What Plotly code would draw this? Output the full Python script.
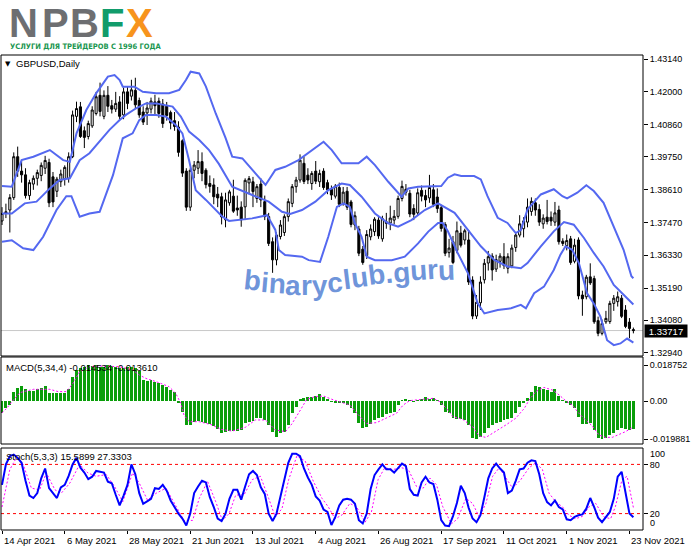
import plotly.graph_objects as go
from plotly.subplots import make_subplots

# ---------------- data ----------------
date_ticks = [0, 16, 32, 48, 64, 80, 96, 112, 128, 144, 160]
date_labels = ["14 Apr 2021", "6 May 2021", "28 May 2021", "21 Jun 2021", "13 Jul 2021",
               "4 Aug 2021", "26 Aug 2021", "17 Sep 2021", "11 Oct 2021", "1 Nov 2021", "23 Nov 2021"]

price_ticks = [1.43140, 1.42000, 1.40860, 1.39750, 1.38610, 1.37470, 1.36330, 1.35190, 1.34080, 1.32940]
macd_ticks = [0.018752, 0.0, -0.019881]
macd_tick_text = ["0.018752", "0.00", "-0.019881"]
stoch_levels = [80, 20]

opens = [1.3752, 1.3778, 1.3790, 1.3833, 1.3975, 1.3925, 1.3912, 1.3840, 1.3880, 1.3900,
         1.3910, 1.3935, 1.3955, 1.3905, 1.3855, 1.3888, 1.3898, 1.3900, 1.3975, 1.4115,
         1.4148, 1.4065, 1.4045, 1.4082, 1.4125, 1.4188, 1.4115, 1.4188, 1.4152, 1.4140,
         1.4165, 1.4120, 1.4200, 1.4185, 1.4205, 1.4170, 1.4130, 1.4127, 1.4140, 1.4165,
         1.4168, 1.4158, 1.4150, 1.4128, 1.4100, 1.4078, 1.4030, 1.3925, 1.3800, 1.3928,
         1.3935, 1.3958, 1.3928, 1.3882, 1.3877, 1.3845, 1.3836, 1.3756, 1.3815, 1.3838,
         1.3797, 1.3800, 1.3801, 1.3884, 1.3888, 1.3830, 1.3880, 1.3819, 1.3767, 1.3680,
         1.3617, 1.3698, 1.3712, 1.3767, 1.3813, 1.3871, 1.3894, 1.3952, 1.3911, 1.3882,
         1.3925, 1.3888, 1.3925, 1.3885, 1.3862, 1.3838, 1.3868, 1.3812, 1.3855, 1.3818,
         1.3738, 1.3724, 1.3654, 1.3632, 1.3697, 1.3715, 1.3755, 1.3690, 1.3749, 1.3745,
         1.3755, 1.3768, 1.3830, 1.3862, 1.3848, 1.3795, 1.3780, 1.3858, 1.3840, 1.3832,
         1.3860, 1.3835, 1.3798, 1.3740, 1.3642, 1.3680, 1.3650, 1.3710, 1.3686, 1.3686,
         1.3547, 1.3422, 1.3468, 1.3548, 1.3606, 1.3630, 1.3585, 1.3612, 1.3628, 1.3588,
         1.3596, 1.3660, 1.3703, 1.3725, 1.3748, 1.3785, 1.3815, 1.3792, 1.3742, 1.3765,
         1.3765, 1.3748, 1.3790, 1.3682, 1.3666, 1.3690, 1.3612, 1.3686, 1.3495, 1.3489,
         1.3558, 1.3552, 1.3406, 1.3362, 1.3402, 1.3403, 1.3466, 1.3472, 1.3484, 1.3443,
         1.3401, 1.3375]
highs = [1.3800, 1.3812, 1.3845, 1.3990, 1.4010, 1.3960, 1.3935, 1.3895, 1.3910, 1.3930,
         1.3955, 1.3978, 1.3968, 1.3922, 1.3905, 1.3930, 1.3945, 1.3990, 1.4135, 1.4166,
         1.4165, 1.4080, 1.4100, 1.4150, 1.4200, 1.4232, 1.4205, 1.4220, 1.4172, 1.4200,
         1.4185, 1.4215, 1.4218, 1.4242, 1.4249, 1.4180, 1.4150, 1.4165, 1.4180, 1.4190,
         1.4180, 1.4175, 1.4165, 1.4135, 1.4130, 1.4098, 1.4035, 1.3935, 1.3935, 1.3960,
         1.3998, 1.3990, 1.3935, 1.3910, 1.3900, 1.3870, 1.3850, 1.3850, 1.3860, 1.3895,
         1.3840, 1.3820, 1.3900, 1.3908, 1.3905, 1.3880, 1.3900, 1.3840, 1.3780, 1.3695,
         1.3712, 1.3755, 1.3775, 1.3830, 1.3880, 1.3905, 1.3983, 1.3975, 1.3935, 1.3925,
         1.3960, 1.3930, 1.3935, 1.3895, 1.3875, 1.3880, 1.3885, 1.3870, 1.3870, 1.3825,
         1.3785, 1.3735, 1.3665, 1.3720, 1.3740, 1.3765, 1.3765, 1.3770, 1.3780, 1.3805,
         1.3790, 1.3840, 1.3892, 1.3880, 1.3860, 1.3810, 1.3865, 1.3875, 1.3860, 1.3912,
         1.3880, 1.3865, 1.3808, 1.3748, 1.3690, 1.3700, 1.3750, 1.3735, 1.3725, 1.3720,
         1.3560, 1.3495, 1.3560, 1.3620, 1.3648, 1.3640, 1.3635, 1.3640, 1.3675, 1.3640,
         1.3670, 1.3710, 1.3772, 1.3765, 1.3830, 1.3834, 1.3830, 1.3810, 1.3775, 1.3825,
         1.3785, 1.3818, 1.3805, 1.3692, 1.3705, 1.3700, 1.3690, 1.3695, 1.3510, 1.3565,
         1.3605, 1.3562, 1.3420, 1.3410, 1.3440, 1.3475, 1.3495, 1.3507, 1.3495, 1.3460,
         1.3415, 1.3382]
lows = [1.3738, 1.3762, 1.3712, 1.3825, 1.3905, 1.3885, 1.3830, 1.3825, 1.3860, 1.3875,
        1.3890, 1.3915, 1.3800, 1.3800, 1.3835, 1.3870, 1.3875, 1.3885, 1.3970, 1.4095,
        1.4040, 1.4005, 1.4035, 1.4075, 1.4118, 1.4115, 1.4105, 1.4130, 1.4125, 1.4130,
        1.4100, 1.4105, 1.4140, 1.4170, 1.4140, 1.4110, 1.4085, 1.4085, 1.4125, 1.4120,
        1.4110, 1.4075, 1.4100, 1.4070, 1.4065, 1.3975, 1.3905, 1.3787, 1.3787, 1.3900,
        1.3915, 1.3890, 1.3865, 1.3850, 1.3810, 1.3800, 1.3740, 1.3730, 1.3805, 1.3780,
        1.3770, 1.3732, 1.3755, 1.3845, 1.3800, 1.3815, 1.3800, 1.3755, 1.3665, 1.3572,
        1.3598, 1.3688, 1.3700, 1.3750, 1.3800, 1.3850, 1.3885, 1.3880, 1.3880, 1.3860,
        1.3880, 1.3870, 1.3860, 1.3845, 1.3825, 1.3830, 1.3800, 1.3805, 1.3790, 1.3730,
        1.3720, 1.3630, 1.3600, 1.3620, 1.3685, 1.3700, 1.3690, 1.3680, 1.3725, 1.3720,
        1.3740, 1.3760, 1.3820, 1.3840, 1.3765, 1.3755, 1.3770, 1.3820, 1.3800, 1.3815,
        1.3800, 1.3780, 1.3715, 1.3630, 1.3625, 1.3602, 1.3640, 1.3660, 1.3670, 1.3530,
        1.3411, 1.3412, 1.3443, 1.3535, 1.3580, 1.3545, 1.3575, 1.3590, 1.3585, 1.3570,
        1.3588, 1.3645, 1.3695, 1.3695, 1.3730, 1.3770, 1.3770, 1.3735, 1.3725, 1.3740,
        1.3735, 1.3735, 1.3670, 1.3665, 1.3650, 1.3600, 1.3605, 1.3480, 1.3423, 1.3480,
        1.3530, 1.3395, 1.3352, 1.3355, 1.3395, 1.3395, 1.3440, 1.3455, 1.3415, 1.3380,
        1.3345, 1.3362]
closes = [1.3778, 1.3784, 1.3833, 1.3975, 1.3925, 1.3912, 1.3840, 1.3885, 1.3900, 1.3920,
          1.3945, 1.3962, 1.3815, 1.3818, 1.3897, 1.3915, 1.3938, 1.3975, 1.4120, 1.4142,
          1.4045, 1.4042, 1.4090, 1.4137, 1.4183, 1.4132, 1.4188, 1.4150, 1.4140, 1.4160,
          1.4115, 1.4200, 1.4160, 1.4207, 1.4155, 1.4120, 1.4095, 1.4144, 1.4168, 1.4152,
          1.4125, 1.4090, 1.4118, 1.4092, 1.4080, 1.3990, 1.3918, 1.3800, 1.3928, 1.3946,
          1.3958, 1.3917, 1.3878, 1.3872, 1.3836, 1.3832, 1.3766, 1.3825, 1.3853, 1.3786,
          1.3790, 1.3756, 1.3893, 1.3899, 1.3854, 1.3871, 1.3825, 1.3767, 1.3674, 1.3617,
          1.3703, 1.3738, 1.3767, 1.3819, 1.3871, 1.3894, 1.3963, 1.3889, 1.3894, 1.3917,
          1.3890, 1.3917, 1.3868, 1.3860, 1.3842, 1.3873, 1.3810, 1.3852, 1.3800, 1.3740,
          1.3770, 1.3640, 1.3608, 1.3705, 1.3724, 1.3758, 1.3700, 1.3760, 1.3744, 1.3762,
          1.3768, 1.3830, 1.3872, 1.3852, 1.3776, 1.3775, 1.3850, 1.3838, 1.3825, 1.3868,
          1.3810, 1.3795, 1.3726, 1.3640, 1.3658, 1.3608, 1.3718, 1.3668, 1.3718, 1.3540,
          1.3422, 1.3470, 1.3540, 1.3605, 1.3628, 1.3582, 1.3618, 1.3630, 1.3597, 1.3628,
          1.3658, 1.3703, 1.3742, 1.3752, 1.3800, 1.3820, 1.3790, 1.3748, 1.3762, 1.3750,
          1.3752, 1.3780, 1.3680, 1.3674, 1.3684, 1.3608, 1.3668, 1.3492, 1.3482, 1.3557,
          1.3537, 1.3402, 1.3362, 1.3396, 1.3414, 1.3466, 1.3484, 1.3489, 1.3421, 1.3386,
          1.3379, 1.33717]

bb_up_x = [0, 2.5, 5, 8, 12.2, 15.6, 17.3, 19, 21.5, 24, 27, 28.7, 30, 30.8, 33.8, 35.9, 39.3,
           42.6, 45.2, 46.9, 48.1, 50.3, 52, 54.5, 57, 58.7, 61.3, 63.8, 67.2, 69.7, 72.2, 75.6,
           79, 82, 84.1, 86.6, 90.9, 93, 95.1, 98.5, 101.9, 103.6, 106.1, 108.7, 112, 113.7,
           115.4, 117.1, 120.4, 122.1, 123.8, 126.4, 128.9, 131, 132.3, 134, 137.4, 140.7,
           142.9, 144.1, 146.7, 149, 150.9, 153.4, 156, 158.5, 160.5, 161]
bb_up = [1.3873, 1.3871, 1.3963, 1.3975, 1.3998, 1.3963, 1.3957, 1.4056, 1.4137, 1.4195,
         1.4253, 1.4258, 1.4241, 1.4218, 1.4218, 1.4200, 1.4195, 1.4195, 1.4207, 1.4241,
         1.4270, 1.4264, 1.4218, 1.4125, 1.4040, 1.3975, 1.3969, 1.3929, 1.3877, 1.3929,
         1.3940, 1.3963, 1.3998, 1.4027, 1.3998, 1.3952, 1.3952, 1.3975, 1.3946, 1.3888,
         1.3836, 1.3865, 1.3871, 1.3873, 1.3873, 1.3902, 1.3914, 1.3908, 1.3908, 1.3896,
         1.3838, 1.3763, 1.3745, 1.3710, 1.3720, 1.3792, 1.3844, 1.3862, 1.3838, 1.3830,
         1.3850, 1.3876, 1.3856, 1.3815, 1.3734, 1.3652, 1.3560, 1.3553]
bb_mid_x = [0, 2.5, 5.8, 8.8, 12.2, 14.7, 17.3, 19.8, 22.3, 24.9, 27.4, 30, 31.6, 34.2, 36.7,
            39.3, 41.8, 43.5, 45.6, 47.7, 50.3, 52.8, 55.3, 58.7, 63.8, 68, 71.4, 73.5, 76.5,
            79.9, 83.2, 86.6, 88.7, 91.7, 95.1, 98.5, 101, 104.4, 107.8, 111.2, 115.4, 118.8,
            122.1, 125.5, 128.9, 132.3, 134, 137.4, 140.7, 143.3, 145.8, 148.4, 150.9, 153.4,
            156, 159.4, 161]
bb_mid = [1.3778, 1.3778, 1.3813, 1.3819, 1.3865, 1.3894, 1.3900, 1.3963, 1.3987, 1.4027,
          1.4068, 1.4102, 1.4120, 1.4143, 1.4160, 1.4160, 1.4154, 1.4149, 1.4114, 1.4062,
          1.4033, 1.3998, 1.3950, 1.3871, 1.3842, 1.3819, 1.3784, 1.3776, 1.3790, 1.3819,
          1.3859, 1.3882, 1.3877, 1.3836, 1.3778, 1.3744, 1.3732, 1.3755, 1.3790, 1.3813,
          1.3780, 1.3722, 1.3664, 1.3617, 1.3594, 1.3588, 1.3606, 1.3664, 1.3716, 1.3748,
          1.3739, 1.3693, 1.3641, 1.3594, 1.3530, 1.3484, 1.3462]
bb_low_x = [0, 2.5, 5.4, 8, 10.5, 13.9, 16.4, 17.7, 19.8, 22.3, 24.9, 28.3, 30.8, 33.3, 35,
            36.7, 39.3, 41.8, 44.3, 46, 47.7, 49.4, 52, 54.5, 56.2, 57.9, 60.4, 63.8, 67.6,
            69.7, 70.6, 72.2, 76.5, 78.2, 81.1, 83.2, 85.4, 87.1, 88.7, 90, 91.7, 93, 95.1,
            99.4, 102.7, 106.1, 108.7, 111.2, 112.4, 113.7, 116.2, 118.8, 121.3, 123, 126.4,
            129.8, 132.3, 133.6, 135.7, 138.2, 140.7, 142.4, 143.7, 145.4, 147.1, 149.2,
            150.9, 152.6, 154.3, 156, 157.7, 159.4, 161]
bb_low = [1.3680, 1.3685, 1.3657, 1.3651, 1.3697, 1.3790, 1.3838, 1.3838, 1.3767, 1.3778,
          1.3784, 1.3911, 1.4039, 1.4056, 1.4102, 1.4120, 1.4120, 1.4114, 1.4085, 1.4056,
          1.3963, 1.3859, 1.3825, 1.3790, 1.3767, 1.3752, 1.3755, 1.3761, 1.3772, 1.3721,
          1.3651, 1.3634, 1.3628, 1.3616, 1.3610, 1.3697, 1.3801, 1.3813, 1.3801, 1.3744,
          1.3697, 1.3628, 1.3616, 1.3616, 1.3628, 1.3674, 1.3715, 1.3745, 1.3745, 1.3716,
          1.3641, 1.3571, 1.3466, 1.3431, 1.3443, 1.3449, 1.3461, 1.3449, 1.3501, 1.3524,
          1.3582, 1.3635, 1.3664, 1.3652, 1.3606, 1.3501, 1.3466, 1.3420, 1.3338, 1.3321,
          1.3327, 1.3344, 1.3330]

macd_hist = [-0.0064, -0.0038, -0.0021, 0.0045, 0.0066, 0.0078, 0.0061, 0.0054, 0.0054, 0.0061,
             0.0066, 0.0078, 0.0043, 0.0043, 0.0040, 0.0040, 0.0040, 0.0061, 0.0127, 0.0162,
             0.0171, 0.0176, 0.018752, 0.0183, 0.0187, 0.0179, 0.0179, 0.0186, 0.0183, 0.0176,
             0.0171, 0.0171, 0.0179, 0.0179, 0.0171, 0.0158, 0.0110, 0.0106, 0.0110, 0.0101,
             0.0092, 0.0084, 0.0075, 0.0057, 0.0049, -0.0012, -0.0056, -0.0125, -0.0125, -0.0108,
             -0.0103, -0.0108, -0.0116, -0.0120, -0.0130, -0.0146, -0.0169, -0.0160, -0.0155, -0.0155,
             -0.0155, -0.0151, -0.0113, -0.0108, -0.0103, -0.0090, -0.0090, -0.0099, -0.0125, -0.0160,
             -0.0186, -0.0169, -0.0160, -0.0125, -0.0064, -0.0030, 0.0009, 0.0014, 0.0023, 0.0023,
             0.0026, 0.0035, 0.0023, 0.0009, -0.0003, -0.0009, -0.0012, -0.0009, -0.0021, -0.0038,
             -0.0064, -0.0113, -0.0143, -0.0134, -0.0120, -0.0099, -0.0090, -0.0082, -0.0068, -0.0061,
             -0.0056, -0.0021, 0.0005, 0.0010, 0.0005, -0.0003, 0.0005, 0.0010, 0.0023, 0.0010,
             0.0014, 0.0005, -0.0021, -0.0056, -0.0064, -0.0090, -0.0096, -0.0096, -0.0099, -0.0125,
             -0.0195, -0.019881, -0.0190, -0.0165, -0.0143, -0.0125, -0.0116, -0.0108, -0.0099, -0.0096,
             -0.0090, -0.0064, -0.0030, -0.0009, 0.0014, 0.0049, 0.0078, 0.0075, 0.0061, 0.0057,
             0.0049, 0.0061, 0.0026, 0.0005, -0.0009, -0.0021, -0.0038, -0.0082, -0.0120, -0.0120,
             -0.0113, -0.0151, -0.0194, -0.0198, -0.0195, -0.0177, -0.0165, -0.0151, -0.0140, -0.0145,
             -0.0150, -0.014534]
macd_sig_x = [0, 1.2, 2.9, 4.6, 8, 12.2, 14.3, 16.4, 18.1, 19.8, 22.3, 24.9, 29.9, 33.3, 35,
              36.7, 39.3, 42.6, 44.3, 45.6, 46.4, 47.7, 50.3, 53.6, 55.8, 58.7, 62.1, 64.6, 67.2,
              69.7, 72.3, 73.9, 76.1, 77.7, 79.9, 82, 84.1, 86.6, 88.7, 91.3, 93, 95.5, 98.1,
              100.6, 102.3, 104, 107.4, 109.9, 111.6, 113.3, 115, 117.5, 120, 121.7, 123.4, 125.9,
              128.5, 131, 133.2, 134.4, 136.1, 138.2, 140.4, 142.1, 143.7, 145.4, 147.1, 148.8,
              150.5, 152.2, 153.9, 155.6, 157.3, 159, 161]
macd_sig = [-0.0062, -0.0038, 0.0005, 0.0044, 0.0061, 0.0061, 0.0049, 0.0049, 0.0092, 0.0153,
            0.0179, 0.0183, 0.0179, 0.0162, 0.0136, 0.0118, 0.0101, 0.0075, 0.0040, -0.0012,
            -0.0073, -0.0108, -0.0108, -0.0125, -0.0148, -0.0157, -0.0137, -0.0099, -0.0099, -0.0151,
            -0.0160, -0.0120, -0.0047, 0.0009, 0.0023, 0.0026, 0.0009, -0.0009, -0.0021, -0.0082,
            -0.0117, -0.0113, -0.0090, -0.0064, -0.0021, 0.0002, 0.0009, 0.0014, -0.0003, -0.0038,
            -0.0082, -0.0096, -0.0134, -0.0183, -0.0190, -0.0160, -0.0125, -0.0090, -0.0038, 0.0005,
            0.0049, 0.0071, 0.0057, 0.0031, 0.0002, -0.0021, -0.0064, -0.0099, -0.0130, -0.0177,
            -0.0190, -0.0190, -0.0177, -0.0160, -0.013610]

stoch_k = [55, 80, 90, 92, 88, 82, 60, 42, 39, 45, 63, 75, 51, 45, 39, 52, 55, 66, 80, 88,
           76, 70, 62, 65, 72, 71, 70, 59, 57, 43, 30, 42, 55, 80, 68, 45, 32, 35, 38, 51,
           50, 55, 48, 36, 28, 20, 14, 5.5, 20, 45, 53, 60, 58, 40, 28, 14, 11, 20, 38, 49,
           49, 37, 53, 68, 72, 67, 52, 44, 20, 11, 20, 40, 62, 82, 93, 93, 90, 75, 64, 55,
           41, 36, 25, 22, 6, 16, 30, 37, 38, 37, 32, 12, 8, 20, 50, 67, 74, 80, 74, 74,
           70, 76, 81, 78, 50, 43, 42, 58, 65, 58, 56, 37, 12, 5.5, 4.7, 17, 33, 54, 45, 27,
           14, 9.6, 18, 40, 63, 75, 81, 75, 70, 45, 48, 60, 74, 75, 82, 85, 84, 68, 45, 34,
           30, 36, 28, 25, 13, 12, 16, 18, 19, 26, 39, 28, 15, 9.6, 16, 22, 38, 65, 71, 45,
           20, 15.5899]
stoch_d_x = [0, 2, 3.7, 5.4, 7.5, 9.6, 11.3, 13.5, 15.1, 17.3, 19.8, 21.9, 24, 26.6, 28.7, 30.8,
             33.3, 35, 37.1, 39.3, 41.8, 43.9, 46.4, 48.6, 50.3, 52.4, 54.5, 56.2, 57.9, 59.6,
             61.7, 63.8, 65.9, 68, 69.7, 71.4, 73.1, 75.2, 77.3, 79.4, 81.6, 83.2, 84.9, 86.6,
             88.7, 90.4, 92.6, 94.2, 95.9, 97.6, 99.7, 101.9, 103.6, 105.7, 107.4, 109.1, 110.8,
             112.4, 114.6, 116.2, 118.3, 120, 121.7, 123.4, 125.1, 126.8, 128.5, 130.2, 132.3,
             134.4, 136.1, 137.8, 139.5, 141.2, 142.9, 144.6, 146.3, 148, 149.7, 151.4, 153.5,
             155.2, 156.4, 158.1, 159.4, 160.2, 161]
stoch_d = [28, 73.8, 88.3, 80, 51, 49, 69.6, 49, 44.8, 57.2, 80, 69.6, 65.5, 67.6, 53, 34.5,
           69.6, 57.2, 36.5, 44.8, 51, 32.4, 11.7, 11.7, 38.6, 59.3, 34.5, 11.7, 20, 42.7,
           42.7, 61.4, 65.5, 38.6, 15.8, 26.2, 61.4, 90.4, 84.1, 59.3, 38.6, 28.3, 13.8, 17.9,
           32.4, 28.3, 9.6, 22, 61.4, 75.9, 73.8, 75.9, 73.8, 53, 51, 63.4, 55.2,
           28.3, 7.5, 13.8, 38.6, 32.4, 15.8, 32.4, 65.5, 75.9, 63.4, 51, 61.4,
           75.9, 82, 73.8, 44.8, 34.5, 28.3, 17.9, 13.8, 16.6, 28.3, 32.4, 15.8,
           13.8, 28.3, 61.4, 65.5, 45, 27.3303]

bars = list(range(len(closes)))

# ---------------- layout geometry (pixels) ----------------
W, H = 691, 549
ML, MR, MT, MB = 1, 45, 55, 19
PW, PH = W - ML - MR, H - MT - MB


def px_x(x):
    return (x - ML) / PW


def px_y(y):
    return (H - MB - y) / PH


BAR0_PX, BAR_PX = 2.0, 3.94
x_range = [(ML - BAR0_PX) / BAR_PX, (ML + PW - BAR0_PX) / BAR_PX]

main_dom = [px_y(356), 1.0]
macd_dom = [px_y(444), px_y(357)]
stoch_dom = [0.0, px_y(448)]

BAND = "#5468F0"
FONT = "Liberation Sans, Arial, sans-serif"

fig = make_subplots(rows=3, cols=1, shared_xaxes=True, vertical_spacing=0.01)

fig.add_trace(go.Candlestick(
    x=bars, open=opens, high=highs, low=lows, close=closes,
    increasing=dict(line=dict(color="black", width=1), fillcolor="white"),
    decreasing=dict(line=dict(color="black", width=1), fillcolor="black"),
    whiskerwidth=0, showlegend=False, hoverinfo="skip"), row=1, col=1)

for xs, ys in [(bb_up_x, bb_up), (bb_mid_x, bb_mid), (bb_low_x, bb_low)]:
    fig.add_trace(go.Scatter(x=xs, y=ys, mode="lines", line=dict(color=BAND, width=2),
                             showlegend=False, hoverinfo="skip"), row=1, col=1)

fig.add_trace(go.Bar(x=bars, y=macd_hist, marker=dict(color="#0A9E0A", line=dict(width=0)),
                     width=0.75, showlegend=False, hoverinfo="skip"), row=2, col=1)
fig.add_trace(go.Scatter(x=macd_sig_x, y=macd_sig, mode="lines",
                         line=dict(color="#FF00FF", width=1, dash="2px,2px"),
                         showlegend=False, hoverinfo="skip"), row=2, col=1)

fig.add_trace(go.Scatter(x=stoch_d_x, y=stoch_d, mode="lines",
                         line=dict(color="#FF00FF", width=1, dash="2px,2px"),
                         showlegend=False, hoverinfo="skip"), row=3, col=1)
fig.add_trace(go.Scatter(x=bars, y=stoch_k, mode="lines", line=dict(color="#0000FF", width=2),
                         showlegend=False, hoverinfo="skip"), row=3, col=1)

axis_common = dict(showgrid=False, zeroline=False, showline=False)
for ax in ["xaxis", "xaxis2", "xaxis3"]:
    fig.layout[ax].update(range=x_range, showticklabels=False, rangeslider=dict(visible=False),
                          **axis_common)
fig.layout.xaxis3.update(ticks="outside", ticklen=3, tickcolor="black",
                         tickvals=date_ticks, ticktext=date_labels)

tickfont = dict(family=FONT, size=9, color="black")
fig.layout.yaxis.update(domain=main_dom, range=[1.32834, 1.43279], side="right",
                        tickvals=price_ticks, ticktext=[f"{v:.5f}" for v in price_ticks],
                        ticks="outside", ticklen=4, tickcolor="black", tickfont=tickfont,
                        **axis_common)
fig.layout.yaxis2.update(domain=macd_dom, range=[-0.02245, 0.02297], side="right",
                         tickvals=macd_ticks, ticktext=macd_tick_text,
                         ticks="outside", ticklen=4, tickcolor="black", tickfont=tickfont,
                         **axis_common)
fig.layout.yaxis3.update(domain=stoch_dom, range=[0, 100], side="right",
                         tickvals=stoch_levels, ticktext=[str(v) for v in stoch_levels],
                         ticks="outside", ticklen=4, tickcolor="black", tickfont=tickfont,
                         **axis_common)

shapes = []
for dom in [main_dom, macd_dom, stoch_dom]:
    shapes.append(dict(type="rect", xref="paper", yref="paper", x0=0, x1=1, y0=dom[0], y1=dom[1],
                       line=dict(color="black", width=1), fillcolor="rgba(0,0,0,0)", layer="above"))
shapes.append(dict(type="line", xref="paper", yref="y", x0=0, x1=1, y0=closes[-1], y1=closes[-1],
                   line=dict(color="#C8C8C8", width=1), layer="below"))
for lv in stoch_levels:
    shapes.append(dict(type="line", xref="paper", yref="y3", x0=0, x1=1, y0=lv, y1=lv,
                       line=dict(color="#FF0000", width=1, dash="3px,3px"), layer="below"))

ann = []
# logo
logo = [("N", 24, "#6D6E71"), ("P", 56, "#6D6E71"), ("B", 85, "#6D6E71"),
        ("F", 113, "#119C6B"), ("X", 140, "#F7941D")]
for ch, cx, col in logo:
    ann.append(dict(text=ch, x=px_x(cx), y=px_y(23), xref="paper", yref="paper",
                    xanchor="center", yanchor="middle", showarrow=False,
                    font=dict(family=FONT, size=40, color=col, weight="bold")))
ann.append(dict(text="УСЛУГИ ДЛЯ ТРЕЙДЕРОВ С 1996 ГОДА", x=px_x(8), y=px_y(47),
                xref="paper", yref="paper", xanchor="left", yanchor="middle", showarrow=False,
                font=dict(family="Liberation Sans Narrow, DejaVu Sans Condensed, sans-serif",
                          size=7.5, color="#1A9650", weight="bold")))
# panel titles
ann.append(dict(text="▼", x=px_x(3), y=px_y(64), xref="paper", yref="paper", xanchor="left",
                yanchor="middle", showarrow=False, font=dict(family="DejaVu Sans", size=7, color="black")))
ann.append(dict(text="GBPUSD,Daily", x=px_x(14), y=px_y(64), xref="paper", yref="paper",
                xanchor="left", yanchor="middle", showarrow=False,
                font=dict(family=FONT, size=9.5, color="black")))
ann.append(dict(text=f"MACD(5,34,4) {macd_hist[-1]:.6f} {macd_sig[-1]:.6f}", x=px_x(4), y=px_y(367),
                xref="paper", yref="paper", xanchor="left", yanchor="middle", showarrow=False,
                font=dict(family=FONT, size=9.5, color="black")))
ann.append(dict(text=f"Stoch(5,3,3) {stoch_k[-1]:.4f} {stoch_d[-1]:.4f}", x=px_x(4), y=px_y(456),
                xref="paper", yref="paper", xanchor="left", yanchor="middle", showarrow=False,
                font=dict(family=FONT, size=9.5, color="black")))
# stoch 100 / 0 labels
ann.append(dict(text="100", x=1, y=100, xref="paper", yref="y3", xanchor="left", yanchor="middle",
                xshift=5, yshift=-6, showarrow=False, font=tickfont))
ann.append(dict(text="0", x=1, y=0, xref="paper", yref="y3", xanchor="left", yanchor="middle",
                xshift=5, yshift=7, showarrow=False, font=tickfont))
# current price box
ann.append(dict(text=f"{closes[-1]:.5f}", x=1, y=closes[-1], xref="paper", yref="y",
                xanchor="left", yanchor="middle", showarrow=False, bgcolor="black",
                width=42, height=12, borderpad=0, xshift=1,
                font=dict(family=FONT, size=9.5, color="white")))
# date labels
for b, lab in zip(date_ticks, date_labels):
    ann.append(dict(text=lab, x=b, y=px_y(540), xref="x3", yref="paper", xanchor="left",
                    yanchor="middle", showarrow=False, font=dict(family=FONT, size=9.5, color="black")))
# watermark
wm = "binaryclub.guru"
wm_cx = [253.5, 265.9, 278.4, 294.8, 308.0, 321.2, 336.8, 348.5, 361.0, 378.1, 390.5, 403.0, 420.1, 434.1, 448.1]
wm_base = [290, 292, 293, 295, 295, 295, 292, 289, 287, 284, 283, 282, 280, 279, 280]
wm_ang = [6, 5, 4, 2, 0, -2, -5, -7, -7, -7, -6, -5, -4, -3, -2]
for ch, cx, by, a in zip(wm, wm_cx, wm_base, wm_ang):
    ann.append(dict(text=ch, x=px_x(cx), y=px_y(by - 10), xref="paper", yref="paper",
                    xanchor="center", yanchor="middle", showarrow=False, textangle=a,
                    font=dict(family=FONT, size=28, color="rgba(85,130,212,0.85)", weight="bold")))

fig.update_layout(width=W, height=H, margin=dict(l=ML, r=MR, t=MT, b=MB),
                  paper_bgcolor="white", plot_bgcolor="white", showlegend=False,
                  hovermode=False, bargap=0, boxgap=0.25,
                  shapes=shapes, annotations=ann)

fig.write_html("out.html", config={"displayModeBar": False, "staticPlot": True},
               post_script="document.body.style.margin='0px';document.body.style.padding='0px';"
                           "document.body.style.overflow='hidden';")
